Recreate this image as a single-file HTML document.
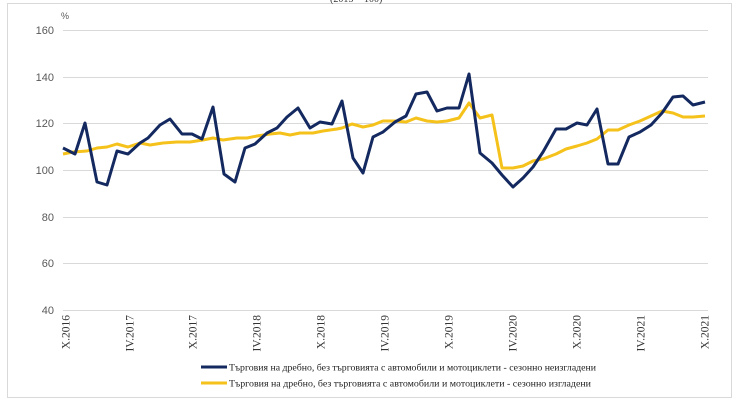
<!DOCTYPE html>
<html><head><meta charset="utf-8"><style>
html,body{margin:0;padding:0;background:#fff;}
svg{display:block;}
</style></head><body>
<svg width="740" height="401" viewBox="0 0 740 401" xmlns="http://www.w3.org/2000/svg">
<rect x="0" y="0" width="740" height="401" fill="#fff"/>
<rect x="7.5" y="3.5" width="724" height="394" fill="none" stroke="#d9d9d9" stroke-width="1"/>
<text x="330" y="2" font-family="Liberation Serif, serif" font-size="10" fill="#333">(2015 = 100)</text>
<g stroke="#d9d9d9" stroke-width="1">
<line x1="63" y1="30.5" x2="708" y2="30.5"/>
<line x1="63" y1="77.5" x2="708" y2="77.5"/>
<line x1="63" y1="123.5" x2="708" y2="123.5"/>
<line x1="63" y1="170.5" x2="708" y2="170.5"/>
<line x1="63" y1="217.5" x2="708" y2="217.5"/>
<line x1="63" y1="263.5" x2="708" y2="263.5"/>
<line x1="63" y1="310.5" x2="708" y2="310.5"/>
</g>
<g font-family="Liberation Sans, sans-serif" font-size="11" fill="#595959" text-anchor="end">
<text x="54" y="34">160</text>
<text x="54" y="81">140</text>
<text x="54" y="127">120</text>
<text x="54" y="174">100</text>
<text x="54" y="221">80</text>
<text x="54" y="267">60</text>
<text x="54" y="314">40</text>
</g>
<text x="61" y="19" font-family="Liberation Sans, sans-serif" font-size="9" fill="#595959">%</text>
<g font-family="Liberation Serif, serif" font-size="11.5" fill="#333" text-anchor="end">
<text transform="translate(69.5,315) rotate(-90)">X.2016</text>
<text transform="translate(133.5,315) rotate(-90)">IV.2017</text>
<text transform="translate(196.5,315) rotate(-90)">X.2017</text>
<text transform="translate(260.5,315) rotate(-90)">IV.2018</text>
<text transform="translate(324.5,315) rotate(-90)">X.2018</text>
<text transform="translate(388.5,315) rotate(-90)">IV.2019</text>
<text transform="translate(452.5,315) rotate(-90)">X.2019</text>
<text transform="translate(516.5,315) rotate(-90)">IV.2020</text>
<text transform="translate(580.5,315) rotate(-90)">X.2020</text>
<text transform="translate(644.5,315) rotate(-90)">IV.2021</text>
<text transform="translate(708.5,315) rotate(-90)">X.2021</text>
</g>
<polyline fill="none" stroke="#F5C21B" stroke-width="3" stroke-linejoin="round" points="63,154 73,152 87,151 97,148 107,147 117,144 128,147 140,143 150,145 163,143 177,142 190,142 203,140 213,138 223,140 237,138 247,138 257,136 270,134 280,133 290,135 300,133 313,133 323,131 337,129 342,128 352,124 363,127 373,125 383,121 395,121 406,122 416,118 427,121 437,122 447,121 459,118 469,103 480,118 492,115 502,168 513,168 523,166 533,161 543,159 556,154 566,149 577,146 587,143 597,139 608,130 618,130 629,125 640,121 651,116 662,111 673,113 683,117 693,117 705,116"/>
<polyline fill="none" stroke="#13295F" stroke-width="3" stroke-linejoin="round" points="63,148 75,154 85,123 97,182 107,185 117,151 128,154 140,143 148,138 160,125 170,119 182,134 192,134 202,139 213,107 224,174 235,182 245,148 255,144 267,133 277,128 287,117 298,108 310,128 320,122 332,124 342,101 353,158 363,173 373,137 383,132 395,122 406,116 416,94 427,92 437,111 447,108 459,108 469,74 480,153 492,163 502,175 513,187 523,178 533,167 543,152 556,129 566,129 577,123 587,125 597,109 608,164 618,164 629,137 640,132 651,125 662,113 673,97 683,96 693,105 705,102"/>
<line x1="201" y1="367" x2="227" y2="367" stroke="#13295F" stroke-width="3"/>
<line x1="201" y1="383" x2="227" y2="383" stroke="#F5C21B" stroke-width="3"/>
<g font-family="Liberation Serif, serif" font-size="9.5" fill="#222">
<text x="229" y="370.5" textLength="367" lengthAdjust="spacingAndGlyphs">Търговия на дребно, без търговията с автомобили и мотоциклети - сезонно неизгладени</text>
<text x="229" y="386.5" textLength="362" lengthAdjust="spacingAndGlyphs">Търговия на дребно, без търговията с автомобили и мотоциклети - сезонно изгладени</text>
</g>
</svg>
</body></html>
